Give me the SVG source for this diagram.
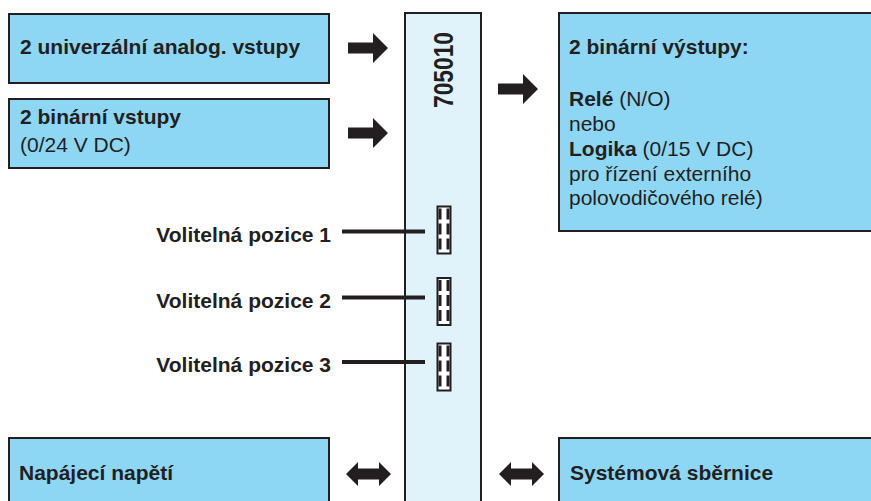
<svg xmlns="http://www.w3.org/2000/svg" width="871" height="501" viewBox="0 0 871 501">
<style>
.box{fill:#8dd7f5;stroke:#231f20;stroke-width:2}
.bar{fill:#e0f3fb;stroke:#231f20;stroke-width:2}
text{font-family:"Liberation Sans",Arial,sans-serif;font-size:21px;fill:#231f20}
.b{font-weight:bold}
.arr{fill:#231f20}
.line{stroke:#231f20;stroke-width:4;fill:none}
.jack{fill:#fff;stroke:#231f20;stroke-width:2}
.jw{stroke:#231f20;stroke-width:3;stroke-dasharray:11 4;fill:none}
</style>
<defs>
<polygon id="ra" points="0,-5.5 25,-5.5 25,-15 40,0 25,15 25,5.5 0,5.5"/>
<polygon id="da" points="0,0 12,-12 12,-5.5 33,-5.5 33,-12 45,0 33,12 33,5.5 12,5.5 12,12"/>
<g id="jk">
<rect class="jack" x="0" y="0" width="13" height="47"/>
<line class="jw" x1="2.5" y1="2" x2="2.5" y2="45"/>
<line class="jw" x1="10.5" y1="2" x2="10.5" y2="45"/>
</g>
</defs>

<g id="bus">
<rect class="bar" x="405" y="13" width="76" height="500"/>
<text class="b" transform="translate(453,70) rotate(-90)" text-anchor="middle" textLength="76" lengthAdjust="spacingAndGlyphs" style="font-size:27px">705010</text>
</g>

<g id="analog-inputs">
<rect class="box" x="9" y="14" width="320" height="69"/>
<text class="b" x="20" y="54">2 univerzální analog. vstupy</text>
</g>

<g id="binary-inputs">
<rect class="box" x="9" y="99" width="320" height="69"/>
<text class="b" x="20" y="124">2 binární vstupy</text>
<text x="20" y="152">(0/24 V DC)</text>
</g>

<g id="binary-outputs">
<rect class="box" x="559" y="13" width="330" height="218"/>
<text class="b" x="569" y="54">2 binární výstupy:</text>
<text x="569" y="106"><tspan class="b">Relé</tspan> (N/O)</text>
<text x="569" y="131">nebo</text>
<text x="569" y="156"><tspan class="b">Logika</tspan> (0/15 V DC)</text>
<text x="569" y="180.5">pro řízení externího</text>
<text x="569" y="205">polovodičového relé)</text>
</g>

<g id="power">
<rect class="box" x="9" y="438" width="320" height="80"/>
<text class="b" x="19" y="480">Napájecí napětí</text>
</g>

<g id="system-bus">
<rect class="box" x="559" y="438" width="330" height="80"/>
<text class="b" x="570" y="480">Systémová sběrnice</text>
</g>

<g id="slot1">
<text class="b" x="331" y="241.5" text-anchor="end">Volitelná pozice 1</text>
<use href="#jk" x="437.5" y="206.5"/>
</g>
<g id="slot2">
<text class="b" x="331" y="307.5" text-anchor="end">Volitelná pozice 2</text>
<use href="#jk" x="437.5" y="278"/>
</g>
<g id="slot3">
<text class="b" x="331" y="372" text-anchor="end">Volitelná pozice 3</text>
<use href="#jk" x="437.5" y="343.5"/>
</g>

<g id="connectors">
<use class="arr" href="#ra" x="348" y="48"/>
<use class="arr" href="#ra" x="348" y="133"/>
<use class="arr" href="#ra" x="498" y="89"/>
<use class="arr" href="#da" x="346" y="474"/>
<use class="arr" href="#da" x="499" y="474"/>
<line class="line" x1="342" y1="231.5" x2="425" y2="231.5"/>
<line class="line" x1="342" y1="297.5" x2="425" y2="297.5"/>
<line class="line" x1="342" y1="362" x2="425" y2="362"/>
</g>
</svg>
